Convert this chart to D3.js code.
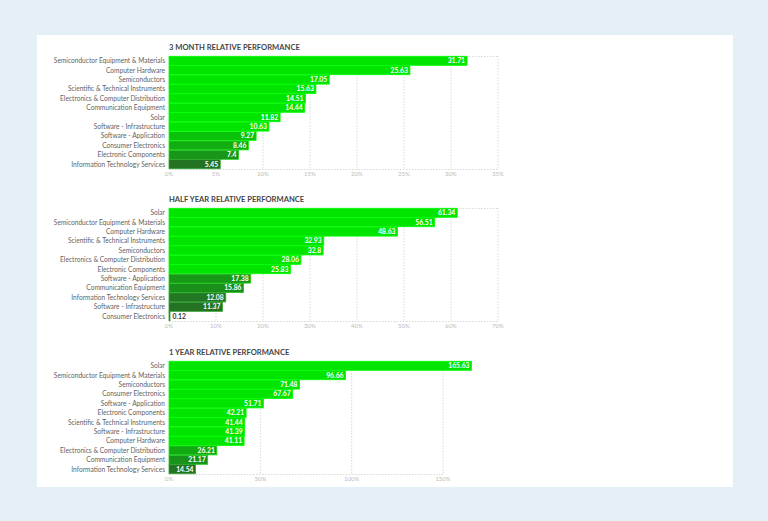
<!DOCTYPE html>
<html>
<head>
<meta charset="utf-8">
<script src="https://cdn.jsdelivr.net/npm/d3@7"></script>
<style>
  html, body { margin: 0; padding: 0; background: #e4f0f6; }
  #panel { position: absolute; left: 37px; top: 35px; width: 696px; height: 452px; background: #fff; }
  text { font-family: Lato, "Open Sans", sans-serif; }
</style>
</head>
<body>
<div id="panel"></div>
<script>
// 3 month
const threeMonthCategories = [
  "Semiconductor Equipment & Materials", "Computer Hardware", "Semiconductors",
  "Scientific & Technical Instruments", "Electronics & Computer Distribution",
  "Communication Equipment", "Solar", "Software - Infrastructure", "Software - Application",
  "Consumer Electronics", "Electronic Components", "Information Technology Services"
];
const threeMonthValues = [31.71, 25.63, 17.05, 15.63, 14.51, 14.44, 11.82, 10.63, 9.27, 8.46, 7.4, 5.45];
const threeMonthTicks = [0, 5, 10, 15, 20, 25, 30, 35];

// half year
const halfYearCategories = [
  "Solar", "Semiconductor Equipment & Materials", "Computer Hardware",
  "Scientific & Technical Instruments", "Semiconductors", "Electronics & Computer Distribution",
  "Electronic Components", "Software - Application", "Communication Equipment",
  "Information Technology Services", "Software - Infrastructure", "Consumer Electronics"
];
const halfYearValues = [61.34, 56.51, 48.63, 32.93, 32.8, 28.06, 25.83, 17.38, 15.86, 12.08, 11.37, 0.12];
const halfYearTicks = [0, 10, 20, 30, 40, 50, 60, 70];

// 1 year
const oneYearCategories = [
  "Solar", "Semiconductor Equipment & Materials", "Semiconductors", "Consumer Electronics",
  "Software - Application", "Electronic Components", "Scientific & Technical Instruments",
  "Software - Infrastructure", "Computer Hardware", "Electronics & Computer Distribution",
  "Communication Equipment", "Information Technology Services"
];
const oneYearValues = [165.63, 96.66, 71.48, 67.67, 51.71, 42.21, 41.44, 41.39, 41.11, 26.21, 21.17, 14.54];
const oneYearTicks = [0, 50, 100, 150];

const charts = [
  { title: "3 MONTH RELATIVE PERFORMANCE", categories: threeMonthCategories, values: threeMonthValues,
    ticks: threeMonthTicks, top: 21, span: 329, colorDomain: [5.45, 7.9, 10.63], box: true },
  { title: "HALF YEAR RELATIVE PERFORMANCE", categories: halfYearCategories, values: halfYearValues,
    ticks: halfYearTicks, top: 173, span: 329, colorDomain: [11.37, 18.5, 25.83], box: true },
  { title: "1 YEAR RELATIVE PERFORMANCE", categories: oneYearCategories, values: oneYearValues,
    ticks: oneYearTicks, top: 326, span: 274, colorDomain: [14.54, 24, 38], box: false }
];

const width = 696;
const height = 452;
const plotLeft = 132;
const plotHeight = 113;

const svg = d3.select("#panel").append("svg").attr("width", width).attr("height", height);

function drawChart(cfg) {
  const maxTick = cfg.ticks[cfg.ticks.length - 1];
  const x = d3.scaleLinear().domain([0, maxTick]).range([0, cfg.span]);
  const y = d3.scaleBand().domain(cfg.categories).range([0, plotHeight]).paddingInner(0.04).paddingOuter(0.03);
  const color = d3.scaleLinear().domain(cfg.colorDomain).range(["#237323", "#159f15", "#00e400"]).clamp(true);

  const g = svg.append("g").attr("transform", `translate(${plotLeft},${cfg.top})`);
  const right = x(maxTick);
  const dotted = (sel) => sel.attr("stroke", "#d8d8d8").attr("stroke-dasharray", "1.5,1.5");

  g.append("text")
    .attr("x", 0).attr("y", -6)
    .attr("fill", "#454545").style("font-size", "7.6px").style("font-weight", "bold")
    .text(cfg.title);

  // grid
  g.append("g").selectAll("line").data(cfg.ticks.slice(1)).join("line")
    .attr("x1", (d) => x(d)).attr("x2", (d) => x(d))
    .attr("y1", 0).attr("y2", plotHeight)
    .call(dotted);
  g.append("line").attr("x1", 0).attr("x2", right).attr("y1", plotHeight + 0.5).attr("y2", plotHeight + 0.5)
    .call(dotted);
  if (cfg.box) {
    g.append("line").attr("x1", 0).attr("x2", right).attr("y1", 0.5).attr("y2", 0.5).call(dotted);
  }

  // tick labels
  g.append("g").selectAll("text").data(cfg.ticks).join("text")
    .attr("x", (d) => x(d)).attr("y", plotHeight + 6.5)
    .attr("text-anchor", "middle").attr("fill", "#bbb").style("font-size", "6px")
    .text((d) => d + "%");

  // category labels
  g.append("g").selectAll("text").data(cfg.categories).join("text")
    .attr("x", -4).attr("y", (d) => y(d) + y.bandwidth() / 2)
    .attr("dy", "0.35em").attr("text-anchor", "end")
    .attr("fill", "#5f5f5f").style("font-size", "6.6px")
    .text((d) => d);

  const rows = cfg.categories.map((c, i) => ({ cat: c, value: cfg.values[i] }));

  g.append("g").selectAll("rect").data(rows).join("rect")
    .attr("x", 0).attr("y", (d) => y(d.cat))
    .attr("width", (d) => Math.max(1, x(d.value)))
    .attr("height", y.bandwidth())
    .attr("fill", (d) => color(d.value))
    .attr("stroke", (d) => d3.color(color(d.value)).brighter(0.9))
    .attr("stroke-width", 0.8);

  g.append("g").selectAll("text").data(rows).join("text")
    .attr("x", (d) => (x(d.value) > 20 ? x(d.value) - 2 : x(d.value) + 3))
    .attr("y", (d) => y(d.cat) + y.bandwidth() / 2)
    .attr("dy", "0.36em")
    .attr("text-anchor", (d) => (x(d.value) > 20 ? "end" : "start"))
    .attr("fill", (d) => (x(d.value) > 20 ? "#fff" : "#333"))
    .style("font-size", "6.8px").style("font-weight", "bold")
    .text((d) => d.value);
}

charts.forEach(drawChart);
</script>
</body>
</html>
